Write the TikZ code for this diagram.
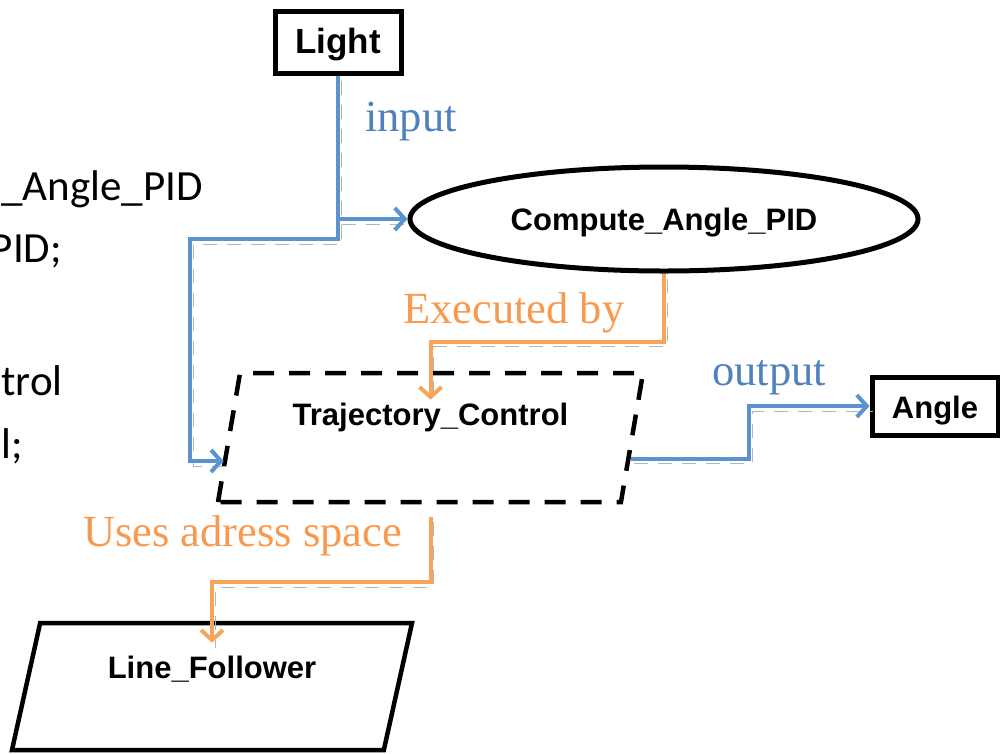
\documentclass[tikz,border=0pt]{standalone}
\usepackage{fontspec}
\usepackage{tikz}
\usetikzlibrary{arrows.meta,calc,positioning,shapes.geometric}
\setmainfont{Liberation Serif}
\newfontfamily\boxsans{Liberation Sans}
\newfontfamily\codesans{Carlito}
\definecolor{flowblue}{HTML}{5B93CF}
\definecolor{flowbluetext}{HTML}{4F81BD}
\definecolor{floworange}{HTML}{F8A55A}
\definecolor{floworangetext}{HTML}{F79A50}
\definecolor{flowshadow}{HTML}{B4B4B4}

\begin{document}
\begin{tikzpicture}[x=1pt,y=-1pt,>={Straight Barb[length=10pt,width=22pt]}]
      \tikzstyle{databox}=[draw=black,line width=5pt,rectangle,inner sep=0pt,font=\boxsans\bfseries\fontsize{31}{36}\selectfont]
      \tikzstyle{threadbox}=[draw=black,line width=4.5pt,trapezium,trapezium stretches body,inner sep=0pt,font=\boxsans\bfseries\fontsize{31}{36}\selectfont]
      \tikzstyle{flow}=[line width=4pt,preaction={draw=flowshadow,arrows=-,dash pattern=on 14pt off 10pt,transform canvas={xshift=3pt,yshift=-5pt}}]
      \tikzstyle{blueflow}=[flow,draw=flowblue]
      \tikzstyle{orangeflow}=[flow,draw=floworange]
      \tikzstyle{flowlabel}=[anchor=base west,inner sep=0pt,font=\fontsize{44.5}{50}\selectfont]
      \tikzstyle{codeline}=[anchor=base east,inner sep=0pt,font=\codesans\fontsize{43}{50}\selectfont]
      \useasboundingbox (0,0) rectangle (1000,753);
      \clip (0,0) rectangle (1000,753);
      % code text cut by the left edge
      \node[codeline] (code1) at (203,200) {\_Angle\_PID};
      \node[codeline] (code2) at (62,262) {PID;};
      \node[codeline] (code3) at (63,395) {trol};
      \node[codeline] (code4) at (23,458) {l;};
      % nodes
      \node[databox,minimum width=126pt,minimum height=62pt,text height=29pt,text depth=7pt,font=\boxsans\bfseries\fontsize{35}{40}\selectfont] (light) at (338,42) {Light};
      \node[databox,minimum width=126pt,minimum height=58pt,text height=30pt,text depth=6pt] (angle) at (935,406) {Angle};
      \node[draw=black,line width=5pt,ellipse,inner sep=0pt,minimum width=508pt,minimum height=104pt,text height=28pt,text depth=6pt,font=\boxsans\bfseries\fontsize{31}{36}\selectfont] (pid) at (664,219) {Compute\_Angle\_PID};
      \node[threadbox,dash pattern=on 21pt off 15pt,trapezium left angle=80.3,trapezium right angle=99.7,minimum width=425pt,text height=52pt,text depth=77pt] (traj) at (430.5,437.5) {Trajectory\_Control};
      \node[threadbox,trapezium left angle=77.5,trapezium right angle=102.5,minimum width=400pt,text height=55pt,text depth=72pt] (follower) at (212,686.5) {Line\_Follower};
      % connectors
      \draw[blueflow,->] (light.south) |- (pid.west);
      \draw[blueflow,->] (light.south) |- (190,239) |- ($(traj.west)+(-3,23.5)$);
      \draw[orangeflow,->] (pid.south) -- ++(0,68) -| ($(traj.north)+(0,29)$);
      \draw[blueflow,->] ($(traj.east)+(-3,21)$) -- ++(118,0) |- (angle.west);
      \draw[orangeflow,->] ($(traj.south)+(0,13)$) -- ++(0,65) -| ($(follower.north)+(0,22)$);
      % labels
      \node[flowlabel,text=flowbluetext] (inputlbl) at (365,131) {input};
      \node[flowlabel,text=floworangetext] (execlbl) at (403,323) {Executed by};
      \node[flowlabel,text=flowbluetext] (outputlbl) at (712,385) {output};
      \node[flowlabel,text=floworangetext] (useslbl) at (83,546) {Uses adress space};
\end{tikzpicture}
\end{document}
